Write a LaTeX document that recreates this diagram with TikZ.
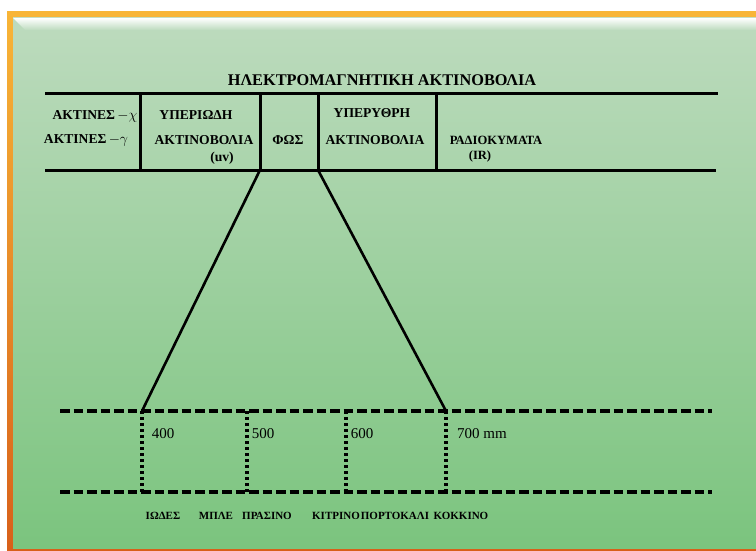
\documentclass[tikz,border=0pt]{standalone}
\usepackage{fontspec}
\setmainfont{Liberation Serif}
\usetikzlibrary{positioning}

\definecolor{framehi}{HTML}{F8B537}
\definecolor{framelo}{HTML}{D8601A}
\definecolor{panelhi}{HTML}{BDDBBE}
\definecolor{panello}{HTML}{7BC47E}

\begin{document}
\begin{tikzpicture}[x=1pt,y=-1pt,
    tline/.style={line width=3pt},
    fline/.style={line width=2.6pt},
    band/.style={line width=3.8pt, dash pattern=on 9.5pt off 4pt},
    tick/.style={line width=3.2pt, dash pattern=on 3pt off 3pt},
    cell/.style={font=\fontsize{13.6}{15}\selectfont\bfseries, inner sep=0pt},
    nm/.style={font=\fontsize{15}{17}\selectfont, inner sep=0pt},
    colour/.style={font=\fontsize{11}{13}\selectfont\bfseries, inner sep=0pt}]
        % background and frame
        \useasboundingbox (0,0) rectangle (756,551);
        \fill[white] (0,0) rectangle (756,551);
        \shade[top color=framehi, bottom color=framelo] (7,12) rectangle (756,551);
        \shade[top color=panelhi, bottom color=panello] (13,18) rectangle (756,548);
        \shade[top color=white, bottom color=panelhi] (13,18) -- (756,18) -- (756,30) -- (25,30) -- cycle;

        \node[cell, font=\fontsize{16.3}{18}\selectfont\bfseries] (title) at (382,80) {ΗΛΕΚΤΡΟΜΑΓΝΗΤΙΚΗ ΑΚΤΙΝΟΒΟΛΙΑ};

        % table
        \coordinate (tl) at (45,94);
        \coordinate (tr) at (718,94);
        \coordinate (bl) at (45,170);
        \coordinate (br) at (716,170);
        \coordinate (uvT) at (140,94);   \coordinate (uvB) at (140,170);
        \coordinate (lightT) at (260,94);  \coordinate (lightB) at (260,170);
        \coordinate (irT) at (318,94);   \coordinate (irB) at (318,170);
        \coordinate (radT) at (436,94);  \coordinate (radB) at (436,170);
        \draw[tline] (tl) -- (tr);
        \draw[tline] (bl) -- (br);
        \foreach \c in {uv,light,ir,rad}
            \draw[tline] (\c T) -- (\c B);

        \node[cell] (xray) at (95,116) {ΑΚΤΙΝΕΣ\,$-\chi$};
        \node[cell] (gray) at (86,140) {ΑΚΤΙΝΕΣ\,$-\gamma$};
        \node[cell] (uv1) at (196,115) {ΥΠΕΡΙΩΔΗ};
        \node[cell] (uv2) at (204,140) {ΑΚΤΙΝΟΒΟΛΙΑ};
        \node[cell] (uv3) at (222,158) {(uv)};
        \node[cell] (light) at (288,140) {ΦΩΣ};
        \node[cell] (ir1) at (372,113) {ΥΠΕΡΥΘΡΗ};
        \node[cell] (ir2) at (375,140) {ΑΚΤΙΝΟΒΟΛΙΑ};
        \node[cell, font=\fontsize{12.6}{14}\selectfont\bfseries] (radio) at (496,140) {ΡΑΔΙΟΚΥΜΑΤΑ};
        \node[cell, font=\fontsize{12.6}{14}\selectfont\bfseries] (radio2) at (480,156) {(IR)};

        % spectrum band
        \coordinate (s400) at (142,411);  \coordinate (e400) at (142,492);
        \coordinate (s500) at (247,411);  \coordinate (e500) at (247,492);
        \coordinate (s600) at (346,411);  \coordinate (e600) at (346,492);
        \coordinate (s700) at (446,411);  \coordinate (e700) at (446,492);
        \coordinate (ul) at (60,411);  \coordinate (ur) at (712,411);
        \coordinate (ll) at (60,492);  \coordinate (lr) at (712,492);

        \draw[fline] (lightB) -- (s400);
        \draw[fline] (irB) -- (s700);
        \draw[band] (ul) -- (ur);
        \draw[band] (ll) -- (lr);
        \foreach \w in {400,500,600,700}
            \draw[tick] (s\w) -- (e\w);

        \node[nm] (n400) at (163,434) {400};
        \node[nm] (n500) at (263,434) {500};
        \node[nm] (n600) at (362,434) {600};
        \node[nm] (n700) at (482,434) {700 mm};

        \node[colour] (violet) at (163,516) {ΙΩΔΕΣ};
        \node[colour] (blue) at (216,516) {ΜΠΛΕ};
        \node[colour] (green) at (267,516) {ΠΡΑΣΙΝΟ};
        \node[colour] (yellow) at (336,516) {ΚΙΤΡΙΝΟ};
        \node[colour] (orange) at (395,516) {ΠΟΡΤΟΚΑΛΙ};
        \node[colour] (red) at (461,516) {ΚΟΚΚΙΝΟ};
    \end{tikzpicture}
\end{document}
